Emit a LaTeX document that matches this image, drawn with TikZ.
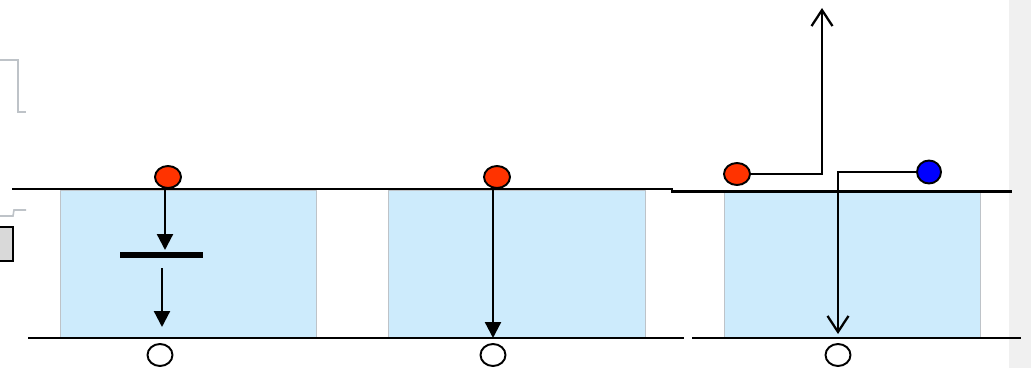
\documentclass[tikz,border=0pt]{standalone}
\usepackage{tikz}
\usetikzlibrary{positioning,arrows.meta,shapes.geometric}

\definecolor{elecred}{RGB}{255,51,0}
\definecolor{holeblue}{RGB}{0,0,255}
\definecolor{layerblue}{RGB}{205,235,252}
\definecolor{edgegray}{RGB}{190,195,200}
\definecolor{stripgray}{RGB}{240,240,240}

\begin{document}
\begin{tikzpicture}[x=0.02cm,y=-0.02cm,
  layer/.style={draw=edgegray,fill=layerblue,line width=0.5pt},
  elec/.style={ellipse,draw,line width=1.1pt,fill=elecred,inner sep=0pt,
    minimum width=0.52cm,minimum height=0.44cm},
  hole/.style={ellipse,draw,line width=1.1pt,fill=white,inner sep=0pt,
    minimum width=0.5cm,minimum height=0.44cm},
  edge/.style={line width=1.3pt},
  arr/.style={-{Triangle[length=0.32cm,width=0.32cm]},line width=1.3pt},
  oarr/.style={-{Straight Barb[length=0.32cm,width=0.42cm,line width=1.3pt]},line width=1.3pt}]
\useasboundingbox (0,0) rectangle (1031,368);
\fill[stripgray] (1009,0) rectangle (1031,368);

% leftover bits on the left
\draw[edgegray,line width=0.9pt] (0,60) -- (18,60) -- (18,112) -- (26,112);
\draw[edgegray,line width=0.9pt] (0,216) -- (13,216) -- (14,210) -- (26,210);
\draw[line width=1.4pt,fill=black!15] (-2,227) rectangle (13,261);

% the three layers
\draw[layer] (60,190) rectangle (316,338);
\draw[layer] (388,190) rectangle (645,338);
\draw[layer] (724,191) rectangle (980,338);

% electrode lines
\draw[edge] (12,189) -- (672,189) -- (672,191.5) -- (1012,191.5);
\draw[edge] (28,338) -- (684,338);
\draw[edge] (692,338) -- (1021,338);

% carriers
\node[elec] (e1) at (168,177) {};
\node[elec] (e2) at (497,177) {};
\node[elec] (e3) at (737,174) {};
\node[elec,fill=holeblue,minimum width=0.48cm,minimum height=0.46cm] (b3) at (929,172) {};
\node[hole] (h1) at (160,355) {};
\node[hole] (h2) at (493,355) {};
\node[hole] (h3) at (838,355) {};

% trap level
\node[fill=black,minimum width=1.66cm,minimum height=0.11cm,inner sep=0pt] (bar) at (161.5,255) {};

\coordinate (t1) at (165,250);
\coordinate (s1) at (162,268);
\coordinate (u1) at (162,327);
\coordinate (u2) at (493,338);
\coordinate (up3) at (822,8);
\coordinate (dn3) at (838,334);

\draw[arr] (e1.south -| t1) -- (t1);
\draw[arr] (s1) -- (u1);
\draw[arr] (e2.south -| u2) -- (u2);
\draw[oarr] (e3.east) -| (up3);
\draw[oarr] (b3.west) -| (dn3);
\end{tikzpicture}
\end{document}
